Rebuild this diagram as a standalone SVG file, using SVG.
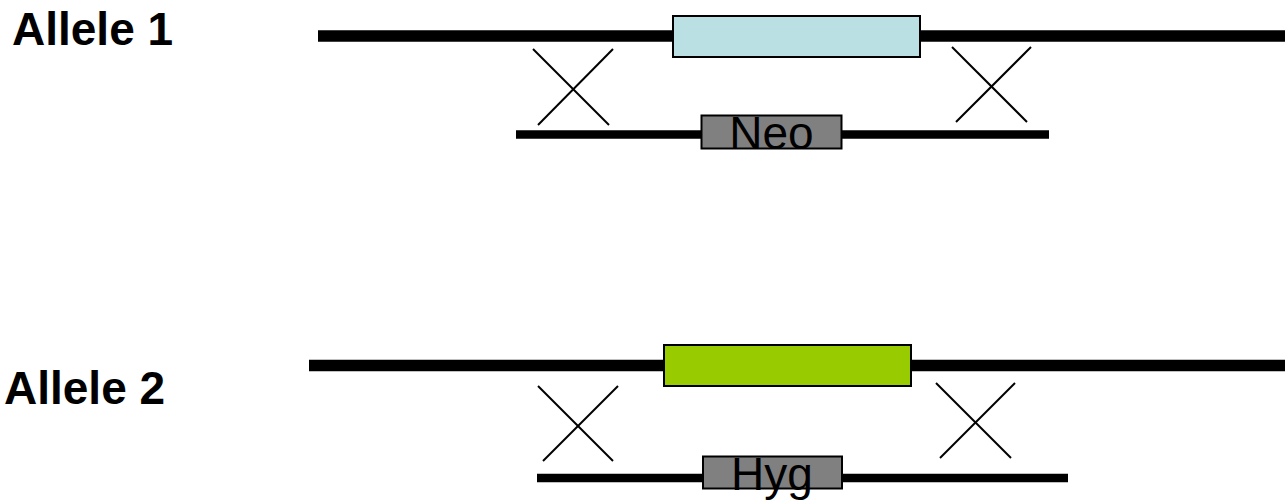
<svg xmlns="http://www.w3.org/2000/svg" width="1285" height="501" viewBox="0 0 1285 501">
<style>
.lbl{font-family:"Liberation Sans",Arial,sans-serif;font-weight:bold;font-size:46px;fill:#000}
.gene{font-family:"Liberation Sans",Arial,sans-serif;font-size:46px;fill:#000;text-anchor:middle}
.chrom{stroke:#000;stroke-width:11.5;fill:none}
.vec{stroke:#000;stroke-width:8.5;fill:none}
.cross{stroke:#000;stroke-width:2;fill:none}
.box{stroke:#000;stroke-width:2}
</style>
<rect width="1285" height="501" fill="#fff"/>
<g id="connectors">
<line class="chrom" x1="318" y1="36" x2="1285" y2="36"/>
<line class="vec" x1="516" y1="134.5" x2="1049" y2="134.5"/>
<line class="cross" x1="533" y1="49" x2="609" y2="125"/>
<line class="cross" x1="613" y1="49" x2="538" y2="125"/>
<line class="cross" x1="952" y1="47" x2="1027" y2="122"/>
<line class="cross" x1="1031" y1="47" x2="956" y2="122"/>
<line class="chrom" x1="309" y1="365.5" x2="1285" y2="365.5"/>
<line class="vec" x1="537" y1="478" x2="1068" y2="478"/>
<line class="cross" x1="538" y1="386" x2="613" y2="461"/>
<line class="cross" x1="618" y1="386" x2="543" y2="461"/>
<line class="cross" x1="936" y1="383" x2="1011" y2="458"/>
<line class="cross" x1="1015" y1="383" x2="940" y2="458"/>
</g>
<g id="allele1-label"><text class="lbl" x="12" y="45">Allele 1</text></g>
<g id="allele2-label"><text class="lbl" x="4" y="404">Allele 2</text></g>
<g id="allele1-gene"><rect class="box" x="673" y="16" width="247" height="41" fill="#BBE0E3"/></g>
<g id="allele2-gene"><rect class="box" x="664" y="345" width="247" height="41" fill="#99CC00"/></g>
<g id="neo"><rect class="box" x="701.5" y="115.5" width="140" height="33" fill="#808080"/><text class="gene" x="771.5" y="149">Neo</text></g>
<g id="hyg"><rect class="box" x="703" y="456.5" width="139" height="32" fill="#808080"/><text class="gene" x="772" y="490">Hyg</text></g>
</svg>
